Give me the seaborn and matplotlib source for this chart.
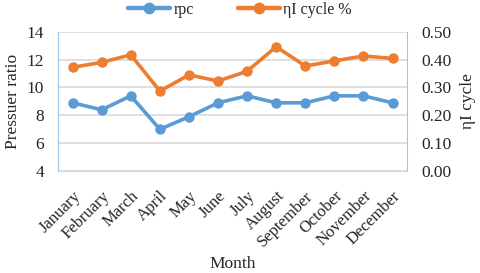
import numpy as np
import pandas as pd
import seaborn as sns
from matplotlib import pyplot as plt
from matplotlib.lines import Line2D

months = ['January', 'February', 'March', 'April', 'May', 'June', 'July',
          'August', 'September', 'October', 'November', 'December']
rpc = [8.9, 8.4, 9.4, 7.0, 7.9, 8.9, 9.4, 8.9, 8.9, 9.4, 9.4, 8.9]
eta_cycle = [0.372, 0.39, 0.417, 0.287, 0.345, 0.323, 0.358, 0.446, 0.377,
             0.395, 0.413, 0.404]

df = pd.DataFrame({'Month': months, 'rpc': rpc, 'eta': eta_cycle})

sns.set_style('white')
plt.rcParams['font.family'] = ['Liberation Serif', 'DejaVu Serif']

blue = '#5B9BD5'
orange = '#ED7D31'
spine_blue = '#9DC3E6'
grey = '#D9D9D9'
lw = 2.6
ms = 7.5

fig, ax = plt.subplots(figsize=(4.8, 2.73), dpi=100)
fig.subplots_adjust(left=0.121, right=0.848, top=0.884, bottom=0.373)

sns.lineplot(data=df, x='Month', y='rpc', ax=ax, color=blue, marker='o',
             markersize=ms, linewidth=lw, markeredgewidth=0, sort=False)
ax2 = ax.twinx()
sns.lineplot(data=df, x='Month', y='eta', ax=ax2, color=orange, marker='o',
             markersize=ms, linewidth=lw, markeredgewidth=0, sort=False)

ax.set_xlim(-0.5, 11.5)
ax.set_ylim(4, 14)
ax.set_yticks(np.arange(4, 15, 2))
ax2.set_ylim(0, 0.5)
ax2.set_yticks(np.arange(0, 0.51, 0.1))
ax2.set_yticklabels([f'{v:.2f}' for v in np.arange(0, 0.51, 0.1)])

ax.yaxis.grid(True, color=grey, linewidth=1.2)
ax.set_axisbelow(True)

for a in (ax, ax2):
    a.spines['top'].set_visible(False)
    a.spines['left'].set_color(spine_blue)
    a.spines['right'].set_color(spine_blue)
    a.spines['bottom'].set_color(grey)
    a.tick_params(length=0, labelsize=12.5)
ax2.spines['left'].set_visible(False)
ax.spines['right'].set_visible(False)
ax.tick_params(axis='y', pad=10)
ax2.tick_params(axis='y', pad=10)

ax.set_xticks(range(len(months)))
ax.set_xticklabels(months, rotation=45, ha='right', rotation_mode='anchor',
                   fontsize=12)
ax.tick_params(axis='x', pad=12)

ax.set_xlabel('Month', fontsize=12.5, labelpad=5)
ax.set_ylabel('Pressuer ratio', fontsize=12.5, labelpad=4)
ax2.set_ylabel('ηI cycle', fontsize=12.5, labelpad=6)

handles = [Line2D([], [], color=blue, marker='o', markersize=ms + 1,
                  linewidth=lw + 0.6, markeredgewidth=0),
           Line2D([], [], color=orange, marker='o', markersize=ms + 1,
                  linewidth=lw + 0.6, markeredgewidth=0)]
fig.legend(handles, ['rpc', 'ηI cycle %'], loc='upper center',
           bbox_to_anchor=(0.5, 1.045), ncol=2, frameon=False,
           fontsize=11.5, handlelength=2.6, columnspacing=2.8,
           handletextpad=0.2)

fig.savefig('out.png', dpi=100)
